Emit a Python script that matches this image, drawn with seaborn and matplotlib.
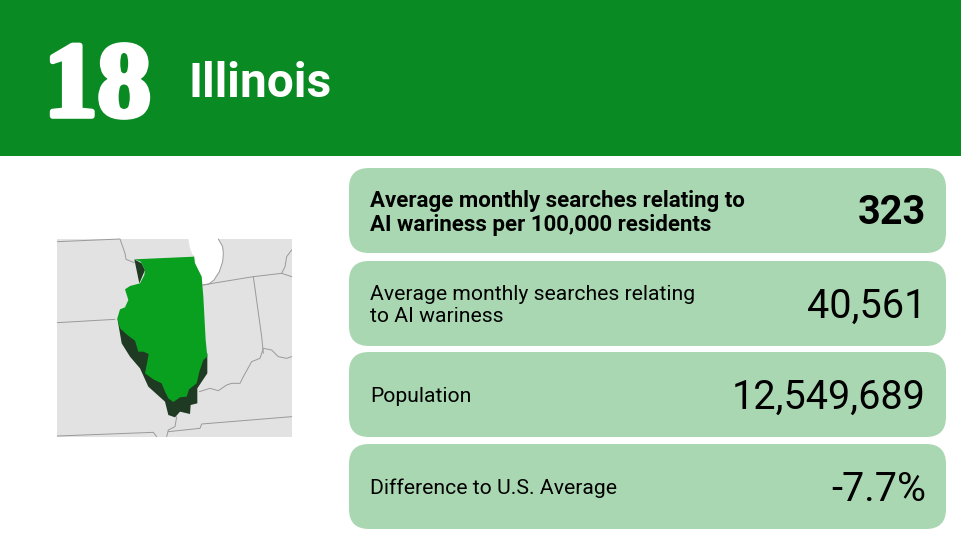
import matplotlib
matplotlib.use("Agg")
import matplotlib.pyplot as plt
import matplotlib.patheffects as pe
from matplotlib.patches import FancyBboxPatch, Rectangle
import pandas as pd
import seaborn as sns

sns.set_theme(style="white")
plt.rcParams['font.family'] = ['Roboto', 'DejaVu Sans']

# 1. CONTENT
rank = "18"
state = "Illinois"
card_labels = [
    "Average monthly searches relating to\nAI wariness per 100,000 residents",
    "Average monthly searches relating\nto AI wariness",
    "Population",
    "Difference to U.S. Average",
]
card_values = ["323", "40,561", "12,549,689", "-7.7%"]
card_bold = [True, False, False, False]

# 2. MAP OUTLINES
map_box = (57, 239, 235, 198)
lake = [(445, 57), (450, 85), (457, 103), (465, 110), (466, 130), (485, 170), (487, 195),
        (505, 193), (522, 180), (538, 155), (548, 125), (550, 100), (545, 75), (535, 57)]
illinois = [(283, 118), (462, 110), (465, 130), (485, 170), (490, 230), (497, 360),
            (502, 410), (490, 420), (478, 455), (470, 490), (447, 508), (440, 530),
            (420, 532), (400, 546), (385, 535), (375, 515), (365, 490), (340, 478),
            (315, 460), (320, 435), (326, 402), (310, 395), (295, 395), (285, 362),
            (262, 345), (240, 325), (232, 295), (240, 268), (255, 262), (265, 240),
            (255, 208), (270, 198), (300, 190), (313, 165), (315, 150), (302, 125)]
shadow_south = [(232, 295), (245, 370), (270, 410), (300, 445), (325, 500), (375, 545),
                (385, 585), (405, 592), (420, 575), (450, 582), (452, 555), (472, 550),
                (472, 505), (502, 460), (502, 400), (400, 380), (300, 350)]
shadow_north = [(283, 118), (298, 190), (315, 150), (305, 130)]
borders = {
    "north": [(52, 65), (240, 57), (255, 100), (258, 118), (283, 128)],
    "iowa": [(52, 308), (225, 298)],
    "michigan": [(487, 195), (640, 170), (725, 160), (755, 170)],
    "michigan2": [(755, 90), (740, 110), (735, 140), (725, 160)],
    "indiana": [(640, 170), (665, 350), (670, 400)],
    "ohio": [(478, 515), (510, 505), (535, 512), (560, 495), (575, 490), (600, 490),
             (610, 470), (635, 425), (660, 415), (670, 385), (695, 390), (715, 410),
             (740, 415), (755, 410)],
    "tenn": [(385, 635), (480, 625), (485, 612), (755, 590)],
    "missouri": [(52, 648), (340, 637), (350, 650)],
    "river": [(410, 590), (405, 620), (385, 630), (380, 650)],
    "lake": [(535, 57), (548, 80), (550, 100), (548, 125), (538, 155), (522, 180),
             (505, 193), (487, 195)],
}


def to_px(points):
    # traced at 3x, from a crop starting at (40, 220)
    return [x / 3 + 40 for x, y in points], [y / 3 + 220 for x, y in points]


# 3. FIGURE
fig = plt.figure(figsize=(9.62, 5.5), dpi=100, facecolor="white")
ax = fig.add_axes([0, 0, 1, 1])
ax.set_xlim(0, 962)
ax.set_ylim(550, 0)
ax.axis("off")

# header band
ax.add_patch(Rectangle((0, 0), 962, 156, color="#0A8A22", lw=0))
ax.text(44, 116, rank, color="white", family="Liberation Serif", fontweight="bold", fontsize=77,
        va="baseline", ha="left",
        path_effects=[pe.withStroke(linewidth=4, foreground="white")])
ax.text(189, 97, state, color="white", fontweight="bold", fontsize=34.5, va="baseline", ha="left")

# map
ax.add_patch(Rectangle(map_box[:2], map_box[2], map_box[3], color="#E2E2E2", lw=0))
ax.fill(*to_px(lake), color="white", lw=0)
for name, pts in borders.items():
    xs, ys = to_px(pts)
    line_df = pd.DataFrame({"x": xs, "y": ys})
    sns.lineplot(data=line_df, x="x", y="y", sort=False, estimator=None, color="#9A9A9A",
                 lw=0.7, ax=ax)
ax.fill(*to_px(shadow_south), color="#1F3A22", lw=0)
ax.fill(*to_px(shadow_north), color="#1F3A22", lw=0)
ax.fill(*to_px(illinois), color="#09A01F", lw=0)

# cards
card_tops = [168, 261, 352, 444]
for top, label, value, bold in zip(card_tops, card_labels, card_values, card_bold):
    ax.add_patch(FancyBboxPatch((349 + 20, top + 20), 597 - 40, 85 - 40,
                                boxstyle="round,pad=20,rounding_size=20",
                                fc="#A9D7B1", ec="none", lw=0))
    if bold:
        ax.text(370, top + 45, label, color="black", fontsize=16, fontweight="bold",
                va="center", ha="left", linespacing=1.15)
    else:
        ax.text(370, top + 44.5, label, color="black", fontsize=15.2,
                va="center", ha="left", linespacing=1.25)
    ax.text(926, top + 45.5, value, color="black", fontsize=28.5,
            fontweight="bold" if bold else "normal", va="center", ha="right")

ax.set_xlabel("")
ax.set_ylabel("")
fig.savefig("out.png", dpi=100)
